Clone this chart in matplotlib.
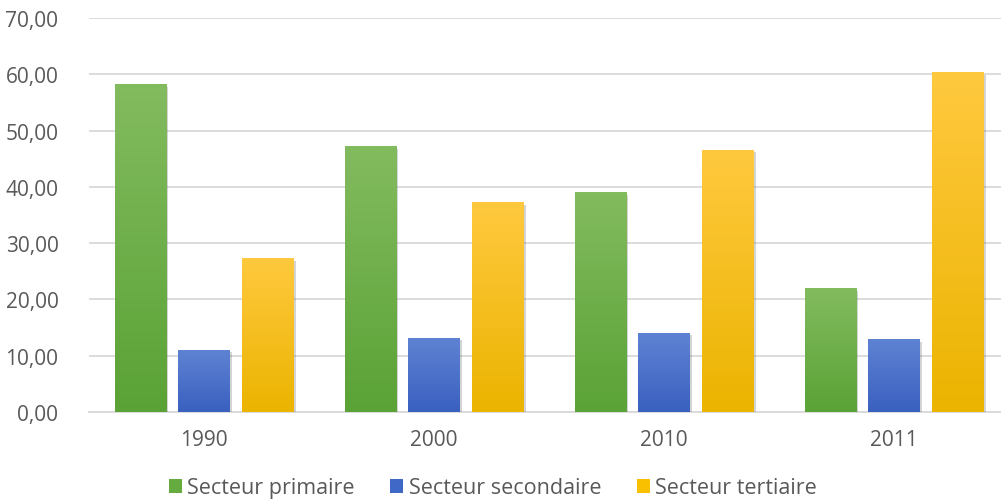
import matplotlib
matplotlib.use("Agg")
import matplotlib.pyplot as plt
import numpy as np
from matplotlib.colors import LinearSegmentedColormap
from matplotlib import patheffects as pe
from matplotlib.patches import Patch

years = ["1990", "2000", "2010", "2011"]
series_names = ["Secteur primaire", "Secteur secondaire", "Secteur tertiaire"]
primaire = [58.3, 47.2, 39.1, 22.0]
secondaire = [11.1, 13.2, 14.1, 13.0]
tertiaire = [27.4, 37.3, 46.6, 60.4]
yticks = [0, 10, 20, 30, 40, 50, 60, 70]

series = [primaire, secondaire, tertiaire]
grad = [("#83bb5f", "#5aa236"), ("#5f83d3", "#3a60c0"), ("#ffc93f", "#ebb400")]
legend_cols = ["#66ab40", "#4069c7", "#f9c000"]

plt.rcParams['font.family'] = ['Open Sans', 'DejaVu Sans']
fig = plt.figure(figsize=(10.01, 5.02), dpi=100)
ax = fig.add_axes([89/1001, 89/502, 920/1001, 394/502])

x = np.arange(len(years))
width = 0.222
offsets = [-0.278, 0.0, 0.278]
for vals, (top, bot), off in zip(series, grad, offsets):
    bars = ax.bar(x + off, vals, width=width, color=bot, zorder=3,
                  path_effects=[pe.SimplePatchShadow(offset=(2, -2), alpha=0.25, shadow_rgbFace='#555555'), pe.Normal()])
    cmap = LinearSegmentedColormap.from_list("g", [bot, top])
    g = np.linspace(0, 1, 256).reshape(-1, 1)
    for b in bars:
        x0, y0 = b.get_x(), b.get_y()
        w, h = b.get_width(), b.get_height()
        im = ax.imshow(g, cmap=cmap, origin='lower', aspect='auto',
                       extent=[x0, x0 + w, y0, y0 + h], zorder=4)
        im.set_clip_path(b)

ax.set_xlim(-0.5, 3.5)
ax.set_ylim(0, 70)
ax.set_yticks(yticks)
ax.set_yticklabels([f"{v:.2f}".replace('.', ',') for v in yticks])
ax.set_xticks(x)
ax.set_xticklabels(years)
ax.tick_params(axis='both', length=0, labelsize=15, colors='#595959')
ax.tick_params(axis='y', pad=22)
ax.tick_params(axis='x', pad=12)
ax.grid(axis='y', color='#d9d9d9', linewidth=1.3, zorder=0)
for s in ['top', 'right', 'left']:
    ax.spines[s].set_visible(False)
ax.spines['bottom'].set_color('#d9d9d9')
ax.spines['bottom'].set_linewidth(1.3)

handles = [Patch(facecolor=c, edgecolor='none') for c in legend_cols]
fig.legend(handles, series_names, loc='center', bbox_to_anchor=(493/1001, 1 - 489/502),
           ncol=3, frameon=False, fontsize=15.5, labelcolor='#595959',
           handlelength=0.6, handleheight=0.6, handletextpad=0.25, columnspacing=1.65)

fig.savefig("out.png", dpi=100)
